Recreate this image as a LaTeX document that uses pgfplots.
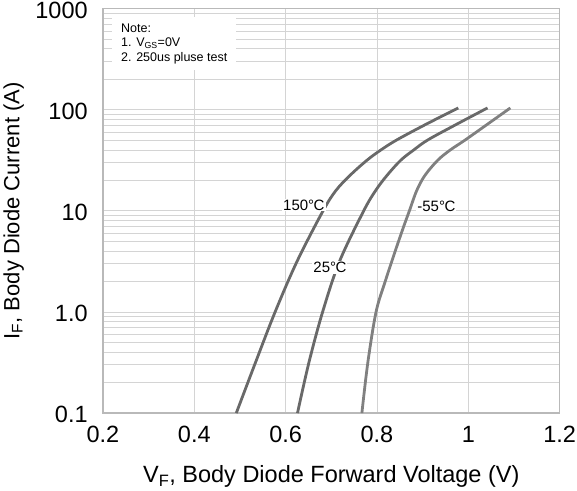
\documentclass[border=0pt]{standalone}
\usepackage{fontspec}
\setmainfont{Liberation Sans}
\usepackage{pgfplots}
\pgfplotsset{compat=1.18}
\definecolor{curve}{RGB}{105,105,105}
\definecolor{curvel}{RGB}{128,128,128}
\definecolor{gridc}{RGB}{212,212,212}
\newcommand{\degC}{°\kern-0.5pt C}
\begin{document}
\begin{tikzpicture}
\begin{axis}[
  scale only axis, width=455bp, height=403bp,
  xmin=0.2, xmax=1.2, ymode=log, ymin=0.1, ymax=1000,
  xtick={0.2,0.4,0.6,0.8,1,1.2},
  xticklabels={0.2,0.4,0.6,0.8,1,1.2},
  ytick={0.1,1,10,100,1000},
  yticklabels={0.1,1.0,10,100,1000},
  major tick length=0, minor tick length=0,
  grid=both,
  major grid style={gridc, line width=0.8pt},
  minor grid style={gridc, line width=0.8pt},
  axis line style={draw=gray!55, line width=1.2pt},
  tick label style={font=\fontsize{23.5}{26}\selectfont, text=black, inner sep=1bp, text height=17bp, text depth=0bp},
  yticklabel style={xshift=-14bp, yshift=-1bp},
  xticklabel style={yshift=-11bp},
  xlabel={V\textsubscript{F}, Body Diode Forward Voltage (V)},
  ylabel={I\textsubscript{F}, Body Diode Current (A)},
  xlabel style={font=\fontsize{23.5}{26}\selectfont, at={(axis description cs:0.5,0)}, anchor=center, yshift=-63bp},
  ylabel style={font=\fontsize{22}{26}\selectfont, at={(axis description cs:-0.1956,0.5)}, anchor=center},
  clip=true,
]
\addplot[curve, line width=2.8pt, smooth, tension=0.55] coordinates {
(0.492,0.1) (0.534,0.316) (0.577,1) (0.625,3.16) (0.682,10) (0.710,15.85) (0.741,22.4) (0.778,31.6) (0.808,39.8) (0.843,50.1) (0.905,70.8) (0.978,104)};
\addplot[curve, line width=2.8pt, smooth, tension=0.55] coordinates {
(0.626,0.1) (0.651,0.316) (0.681,1) (0.718,3.16) (0.771,10) (0.797,15.85) (0.822,22.4) (0.852,31.6) (0.880,39.8) (0.911,50.1) (0.972,70.8) (1.042,104)};
\addplot[curvel, line width=2.8pt, smooth, tension=0.55] coordinates {
(0.767,0.1) (0.780,0.316) (0.798,1) (0.818,2.0) (0.840,4.0) (0.859,7.1) (0.871,10) (0.887,15.85) (0.905,22.4) (0.933,31.6) (0.960,39.8) (0.993,50.1) (1.040,70.8) (1.092,104)};
\node[font=\fontsize{15}{17}\selectfont, fill=white, inner sep=1pt] at (axis cs:0.640,11.4) {150\degC};
\node[font=\fontsize{15}{17}\selectfont, fill=white, inner sep=1pt] at (axis cs:0.697,2.75) {25\degC};
\node[font=\fontsize{15}{17}\selectfont, fill=white, inner sep=1pt] at (axis cs:0.930,11) {-55\degC};
\node[anchor=north west, fill=white, align=left, font=\fontsize{12.5}{14.5}\selectfont, inner xsep=9bp, inner ysep=6bp] at (axis cs:0.2198,820) {Note:\\1. V\textsubscript{GS}=0V\\2. 250us pluse test};
\end{axis}
\end{tikzpicture}
\end{document}
